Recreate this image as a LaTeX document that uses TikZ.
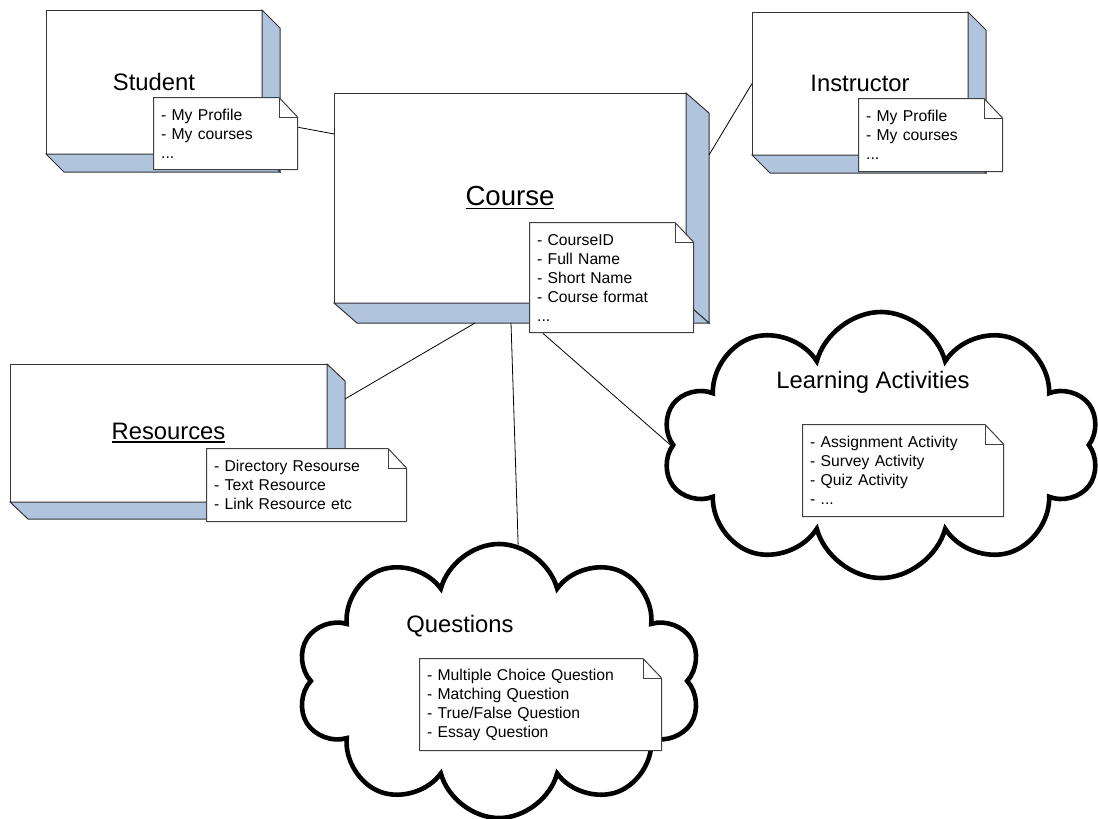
\documentclass[tikz,border=0pt]{standalone}
\usepackage{fontspec}
\setmainfont{Liberation Sans}
\usepackage{tikz}
\usetikzlibrary{shapes.symbols}
\definecolor{sideblue}{RGB}{176,196,222}
\newcommand{\notefont}{\fontsize{15.7}{19}\selectfont}
\newcommand{\titlefont}{\fontsize{23.8}{28}\selectfont}
\newsavebox{\ulbox}
\newcommand{\ulined}[1]{\sbox{\ulbox}{#1}\rlap{\rule[-3.5pt]{\wd\ulbox}{1.5pt}}\usebox{\ulbox}}
\newcommand{\boxdepth}[3]{%
	\filldraw[side] (#1.north east) -- ++(#2,#3) -- ([shift={(#2,#3)}]#1.south east) -- (#1.south east) -- cycle;
	\filldraw[side] (#1.south west) -- ++(#2,#3) -- ([shift={(#2,#3)}]#1.south east) -- (#1.south east) -- cycle;
}

\begin{document}
\begin{tikzpicture}[x=1pt,y=-1pt,
		unitbox/.style={draw=black!80,fill=white,line width=1pt,outer sep=0pt,font=\titlefont},
		side/.style={fill=sideblue,draw=black!80,line width=1pt},
		note/.style={rectangle,anchor=north west,inner xsep=8pt,inner ysep=0pt,align=left,font=\notefont,
			path picture={
				\filldraw[fill=white,draw=black!75,line width=1pt]
					([shift={(.5pt,.5pt)}]path picture bounding box.south west)
					-- ([shift={(.5pt,-.5pt)}]path picture bounding box.north west)
					-- ([shift={(-19pt,-.5pt)}]path picture bounding box.north east)
					-- ([shift={(-.5pt,-20pt)}]path picture bounding box.north east)
					-- ([shift={(-.5pt,.5pt)}]path picture bounding box.south east)
					-- cycle;
				\draw[black!75,line width=1pt]
					([shift={(-19pt,-.5pt)}]path picture bounding box.north east)
					|- ([shift={(-.5pt,-20pt)}]path picture bounding box.north east);
			}},
		cloudy/.style={cloud,cloud puffs=10,cloud ignores aspect,draw,fill=white,line width=4.6pt},
		title/.style={font=\titlefont},
		link/.style={draw,line width=.8pt}]
		\useasboundingbox (0,0) rectangle (1098,819);

		\node[unitbox,minimum width=216pt,minimum height=144pt] (student) at (154,82) {Student};
		\node[unitbox,minimum width=216pt,minimum height=143pt] (instructor) at (860,83.5) {Instructor};
		\node[unitbox,minimum width=352pt,minimum height=210pt,font=\fontsize{27.6}{32}\selectfont] (course) at (510,198) {\raisebox{-4pt}{\ulined{Course}}};
		\node[unitbox,minimum width=317pt,minimum height=138pt] (res) at (168.5,433) {\ulined{Resources}};
		\boxdepth{student}{18}{18}
		\boxdepth{instructor}{18}{18}
		\boxdepth{course}{23}{20}
		\boxdepth{res}{18}{17}

		\node[note,text width=129pt,minimum height=73pt] (stunote) at (153,97) {- My Profile\\- My courses\\...};
		\node[note,text width=129pt,minimum height=74pt] (insnote) at (858,98) {- My Profile\\- My courses\\...};
		\node[note,text width=149pt,minimum height=111pt] (cnote) at (529,222) {- CourseID\\- Full Name\\- Short Name\\- Course format\\...};
		\node[note,text width=185pt,minimum height=74pt] (resnote) at (206,448) {- Directory Resourse\\- Text Resource\\- Link Resource etc};

		\node[cloudy,minimum width=437pt,minimum height=266pt] (learning) at (881,445) {};
		\node[cloudy,minimum width=404pt,minimum height=274pt] (questions) at (499,681) {};
		\node[title] (actlabel) at (873,382) {Learning Activities};
		\node[title] (queslabel) at (460,626) {Questions};
		\node[note,text width=186pt,minimum height=93pt] (actnote) at (802,424) {- Assignment Activity\\- Survey Activity\\- Quiz Activity\\- ...};
		\node[note,text width=227pt,minimum height=93pt] (quesnote) at (419,658) {- Multiple Choice Question\\- Matching Question\\- True/False Question\\- Essay Question};

		\path[link]
			(stunote.5) -- (course.160)
			([xshift=23pt,yshift=43pt]course.east) -- (instructor.west)
			([xshift=-35pt,yshift=-20pt]course.south) -- ([xshift=18pt,yshift=34pt]res.east)
			([xshift=1pt,yshift=-20pt]course.south) -- (questions.82)
			([xshift=14pt]cnote.south west) -- (learning.west)
		;
	\end{tikzpicture}
\end{document}
